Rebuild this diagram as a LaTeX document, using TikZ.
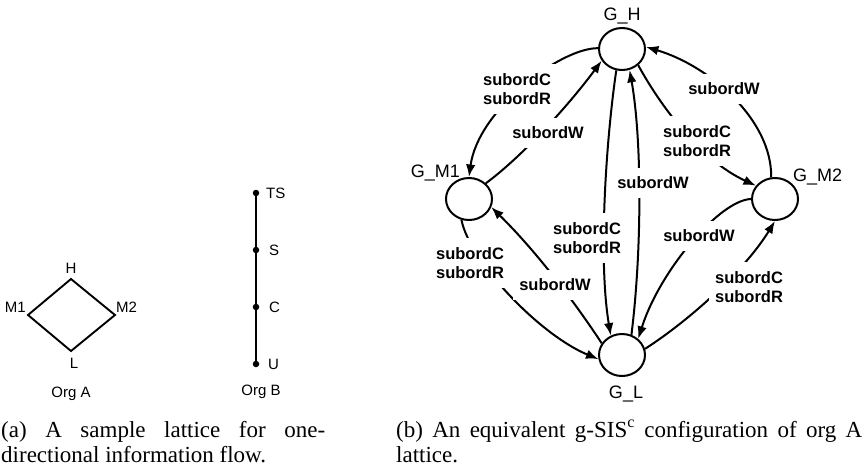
\documentclass[tikz,border=0pt]{standalone}
\usepackage{fontspec}
\setmainfont{Liberation Serif}
\newfontfamily\diagfont{Liberation Sans}
\usetikzlibrary{arrows.meta,shapes.geometric}

\begin{document}
\begin{tikzpicture}[x=1pt,y=-1pt,
  state/.style={draw, ellipse, line width=2pt, minimum width=46pt, minimum height=42pt, inner sep=0pt},
  statename/.style={font=\diagfont\fontsize{18}{20}\selectfont, inner sep=0pt},
  flow/.style={line width=2pt, -{Latex[length=12.5pt,width=9.5pt]}},
  rel/.style={font=\diagfont\fontsize{16.5}{19.5}\selectfont\bfseries, fill=white, align=left, inner xsep=6pt, inner ysep=9pt},
  lat/.style={line width=1.9pt},
  chainline/.style={line width=2.5pt},
  dotnode/.style={circle, fill, inner sep=0pt, minimum size=6.5pt},
  latname/.style={font=\diagfont\fontsize{15}{17}\selectfont, inner sep=0pt},
  captext/.style={inner sep=0pt, anchor=base west}
]
\useasboundingbox (0,0) rectangle (864,471);

% ---------- Org A: diamond lattice ----------
\coordinate (H)  at (71,279);
\coordinate (M1) at (28,315);
\coordinate (M2) at (115,315);
\coordinate (L)  at (71,351);
\draw[lat] (H) -- (M2) -- (L) -- (M1) -- cycle;
\node[latname] (tH)  at (71,268) {H};
\node[latname, anchor=east] (tM1) at (26,307) {M1};
\node[latname, anchor=west] (tM2) at (116,307) {M2};
\node[latname] (tL)  at (74,363) {L};
\node[latname] (orgA) at (71,394) {Org A};

% ---------- Org B: linear order ----------
\node[dotnode] (TS) at (256,193) {};
\node[dotnode] (S)  at (256,250) {};
\node[dotnode] (C)  at (256,307) {};
\node[dotnode] (U)  at (256,364) {};
\draw[chainline] (TS) -- (S) -- (C) -- (U);
\node[latname, anchor=west] (tTS) at (266,193) {TS};
\node[latname, anchor=west] (tS)  at (269,250) {S};
\node[latname, anchor=west] (tC)  at (269,307) {C};
\node[latname, anchor=west] (tU)  at (268,364) {U};
\node[latname] (orgB) at (261,392) {Org B};

% ---------- g-SIS groups ----------
\node[state] (GH)  at (622,49)  {};
\node[state] (GM1) at (469,199) {};
\node[state] (GM2) at (775,199) {};
\node[state] (GL)  at (622,355) {};
\node[statename, anchor=base]      (nH)  at (622,20)  {G\_H};
\node[statename, anchor=base east] (nM1) at (460,177) {G\_M1};
\node[statename, anchor=base west] (nM2) at (793,181) {G\_M2};
\node[statename, anchor=base]      (nL)  at (626,398) {G\_L};

% relations between groups
\draw[flow] (GH.178)  .. controls (560,48)  and (478,110) .. (GM1.90);
\draw[flow] (GM1.43)  .. controls (520,158) and (565,110) .. (GH.210);
\draw[flow] (GM1.250) .. controls (470,262) and (540,335) .. (GL.190);
\draw[flow] (GL.150)  .. controls (580,310) and (540,255) .. (GM1.340);
\draw[flow] (GH.255)  .. controls (606,140) and (598,260) .. (GL.120);
\draw[flow] (GL.65)   .. controls (642,250) and (642,140) .. (GH.290);
\draw[flow] (GH.315)  .. controls (660,105) and (700,160) .. (GM2.145);
\draw[flow] (GM2.100) .. controls (772,120) and (710,66)  .. (GH.5);
\draw[flow] (GM2.180) .. controls (720,200) and (660,270) .. (GL.45);
\draw[flow] (GL.15)   .. controls (690,320) and (745,270) .. (GM2.270);

% relation labels
\node[rel] (e1)  at (517,89)  {subordC\\subordR};
\node[rel] (e2)  at (548,133) {subordW};
\node[rel] (e3)  at (470,263) {subordC\\subordR};
\node[rel] (e4)  at (555,285) {subordW};
\node[rel] (e5)  at (587,238) {subordC\\subordR};
\node[rel] (e6)  at (653,183) {subordW};
\node[rel] (e7)  at (697,141) {subordC\\subordR};
\node[rel] (e8)  at (724,89)  {subordW};
\node[rel] (e9)  at (699,236) {subordW};
\node[rel] (e10) at (749,287) {subordC\\subordR};

% ---------- captions ----------
\node[captext] (capA) at (1,437) {\parbox[t]{324pt}{\fontsize{23}{25}\selectfont\tolerance=10000\hbadness=10000
  (a) A sample lattice for one-\linebreak directional information flow.}};
\node[captext] (capB) at (396,437) {\parbox[t]{466pt}{\fontsize{23}{25}\selectfont\tolerance=10000\hbadness=10000
  (b) An equivalent g-SIS\textsuperscript{c} configuration of org A\linebreak lattice.}};
\end{tikzpicture}
\end{document}
